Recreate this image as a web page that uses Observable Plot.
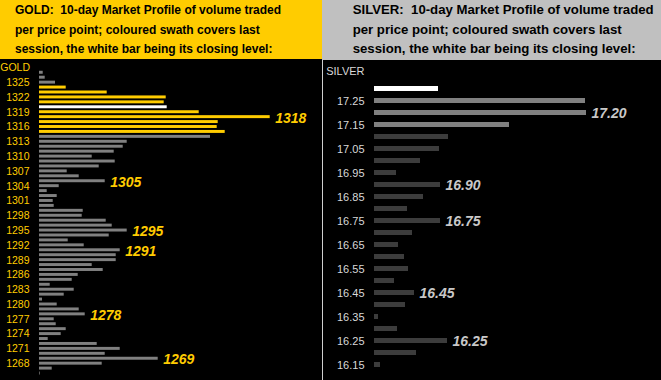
<!DOCTYPE html>
<html>
<head>
<meta charset="utf-8">
<script src="https://cdn.jsdelivr.net/npm/d3@7"></script>
<script src="https://cdn.jsdelivr.net/npm/@observablehq/plot@0.6"></script>
<style>
  html, body { margin: 0; padding: 0; background: #000; }
  #wrap { position: relative; width: 661px; height: 380px; background: #000; overflow: hidden; }
  .hdr { position: absolute; top: 0; box-sizing: border-box; font-family: "Liberation Sans", Arial, sans-serif;
         font-weight: bold; font-size: 12px; line-height: 19.5px; color: #000; white-space: pre; }
  #hg { left: 0; width: 322px; height: 59px; background: #FFCC00; padding: 1px 0 0 15px; }
  #hs { left: 322px; width: 339px; height: 60px; background: #C0C0C0; padding: 0 0 0 30.7px; font-size: 13.2px; }
  #div { position: absolute; left: 322px; top: 60px; width: 1px; height: 320px; background: #cfcfcf; }
  #pg { position: absolute; left: 0; top: 60px; }
  #ps { position: absolute; left: 323px; top: 60px; }
  svg { display: block; }
</style>
</head>
<body>
<div id="wrap">
  <div class="hdr" id="hg">GOLD:  10-day Market Profile of volume traded
per price point; coloured swath covers last
session, the white bar being its closing level:</div>
  <div class="hdr" id="hs">SILVER:  10-day Market Profile of volume traded
per price point; coloured swath covers last
session, the white bar being its closing level:</div>
  <div id="div"></div>
  <div id="pg"></div>
  <div id="ps"></div>
</div>
<script>
// ---------- GOLD ----------
const goldPrices = [1327,1326,1325,1324,1323,1322,1321,1320,1319,1318,1317,1316,1315,1314,1313,1312,1311,1310,1309,1308,
  1307,1306,1305,1304,1303,1302,1301,1300,1299,1298,1297,1296,1295,1294,1293,1292,1291,1290,1289,1288,1287,1286,
  1285,1284,1283,1282,1281,1280,1279,1278,1277,1276,1275,1274,1273,1272,1271,1270,1269,1268,1267,1266];
const goldVolume = [3.7,5.7,16,26.7,67.7,126.7,124.7,127.7,159.7,230.7,178.7,177.7,185.7,171,87.7,83.7,74.7,52.7,75.7,59.7,
  27.7,39.7,65.7,19.7,7.7,17.7,13.7,14.7,43.7,42.7,66.7,72.7,87.7,69.7,28.7,44.7,80.7,76.7,76.7,52.7,63.7,38.7,
  32.7,10.7,34.7,24.7,3,17.7,39.7,45.7,14.7,16.7,26.7,21.7,8.7,57.7,80.7,65.7,118.7,62.7,12.7,0.7];
const goldSession = [1324,1323,1322,1321,1320,1319,1318,1317,1316,1315];
const goldClose = 1320;
const goldTicks = [1325,1322,1319,1316,1313,1310,1307,1304,1301,1298,1295,1292,1289,1286,1283,1280,1277,1274,1271,1268];
const goldLabels = [1318,1305,1295,1291,1278,1269];

// ---------- SILVER ----------
const silverPrices = ["17.30","17.25","17.20","17.15","17.10","17.05","17.00","16.95","16.90","16.85","16.80","16.75",
  "16.70","16.65","16.60","16.55","16.50","16.45","16.40","16.35","16.30","16.25","16.20","16.15"];
const silverVolume = [64,211,212,135,74,65,46,22,66,49,33,66,38,24,30,34,20,40,31,4,23,73,42,6];
const silverSession = ["17.30","17.25","17.20","17.15"];
const silverClose = "17.30";
const silverTicks = ["17.25","17.15","17.05","16.95","16.85","16.75","16.65","16.55","16.45","16.35","16.25","16.15"];
const silverLabels = ["17.20","16.90","16.75","16.45","16.25"];

const YELLOW = "#FFCC00";
const FONT = "'Liberation Sans', Arial, sans-serif";

const gold = goldPrices.map((p, i) => ({p, v: goldVolume[i],
  c: p === goldClose ? "close" : goldSession.includes(p) ? "session" : "other"}));
const silver = silverPrices.map((p, i) => ({p, v: silverVolume[i],
  c: p === silverClose ? "close" : silverSession.includes(p) ? "session" : "other"}));

const goldFill = {close: "#FFFFFF", session: YELLOW, other: "#808080"};
const silverFill = {close: "#FFFFFF", session: "#808080", other: "#3C3C3C"};

const gp = Plot.plot({
  width: 322, height: 320,
  marginLeft: 39, marginRight: 0, marginTop: 9.8, marginBottom: 4.5,
  style: {background: "#000", color: YELLOW, fontFamily: FONT, fontSize: "10.5px", overflow: "visible"},
  x: {domain: [0, 283], axis: null},
  y: {type: "band", domain: goldPrices, paddingInner: 0.4, paddingOuter: 0.2, axis: null},
  marks: [
    Plot.barX(gold, {x: "v", y: "p", fill: d => goldFill[d.c]}),
    Plot.axisY(goldTicks, {tickSize: 0, tickPadding: 10, tickFormat: d => String(d), fill: YELLOW, fontSize: 10.5, label: null}),
    Plot.text(["GOLD"], {frameAnchor: "top-left", lineAnchor: "middle", textAnchor: "end", dx: -9.5, dy: -3, fill: YELLOW, fontSize: 10.5}),
    Plot.text(gold.filter(d => goldLabels.includes(d.p)), {x: "v", y: "p", text: d => String(d.p), dx: 5, dy: 1,
      textAnchor: "start", fontWeight: "bold", fontStyle: "italic", fontSize: 14, fill: YELLOW})
  ]
});
document.getElementById("pg").appendChild(gp);

const sp = Plot.plot({
  width: 338, height: 320,
  marginLeft: 51, marginRight: 0, marginTop: 16.8, marginBottom: 4.5,
  style: {background: "#000", color: "#D8D8D8", fontFamily: FONT, fontSize: "11px"},
  x: {domain: [0, 287], axis: null},
  y: {type: "band", domain: silverPrices, paddingInner: 0.6, paddingOuter: 0.3, axis: null},
  marks: [
    Plot.barX(silver, {x: "v", y: "p", fill: d => silverFill[d.c]}),
    Plot.axisY(silverTicks, {tickSize: 0, tickPadding: 10, fill: "#D8D8D8", fontSize: 11, label: null}),
    Plot.text(["SILVER"], {frameAnchor: "top-left", lineAnchor: "middle", textAnchor: "end", dx: -10, dy: -6, fill: "#D8D8D8", fontSize: 11}),
    Plot.text(silver.filter(d => silverLabels.includes(d.p)), {x: "v", y: "p", text: "p", dx: 5, dy: 1,
      textAnchor: "start", fontWeight: "bold", fontStyle: "italic", fontSize: 14, fill: "#C8C8C8"})
  ]
});
document.getElementById("ps").appendChild(sp);
</script>
</body>
</html>
